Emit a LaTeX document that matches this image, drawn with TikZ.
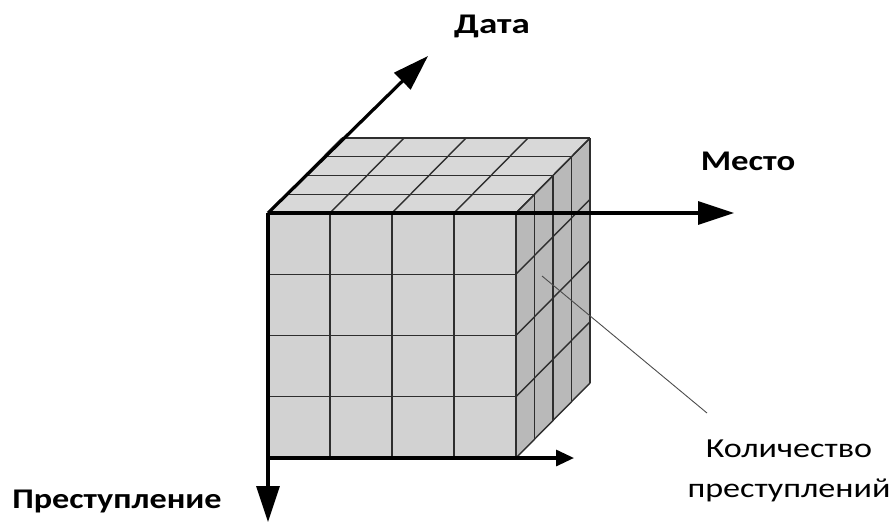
\documentclass[tikz,border=0pt]{standalone}
\usepackage{fontspec}
\setmainfont{Carlito}
\usetikzlibrary{arrows.meta}
\definecolor{frontc}{HTML}{D2D2D2}
\definecolor{topc}{HTML}{D8D8D8}
\definecolor{sidec}{HTML}{B9B9B9}
\definecolor{gridc}{HTML}{2E2E2E}
\tikzset{
  gridline/.style={draw=gridc, line width=1.4pt},
  axis/.style={line width=3.2pt, black},
  bighead/.style={-{Triangle[length=36pt,width=23pt]}},
  smallhead/.style={-{Triangle[length=18pt,width=16pt]}},
  axlabel/.style={font=\fontsize{28.5}{34}\selectfont\bfseries, inner sep=0pt, anchor=base},
  notelabel/.style={font=\fontsize{27.5}{40}\selectfont, inner sep=0pt, anchor=base},
}
\begin{document}
\begin{tikzpicture}[x=1pt,y=-1pt]
\useasboundingbox (0,0) rectangle (895,523);
% geometry
\def\dx{18.5}\def\dy{-18.75}
% faces
\fill[topc] (268,213) -- (516,213) -- (590,138) -- (342,138) -- cycle;
\fill[sidec] (516,213) -- (590,138) -- (590,383) -- (516,458) -- cycle;
\fill[frontc] (268,213) rectangle (516,458);
% top face grid
\foreach \k in {0,1,2,3,4}{
  \draw[gridline] ({268+\k*\dx},{213+\k*\dy}) -- ({516+\k*\dx},{213+\k*\dy});
  \draw[gridline] ({516+\k*\dx},{213+\k*\dy}) -- ({516+\k*\dx},{458+\k*\dy});
}
\foreach \x in {268,330,392,454,516}{
  \draw[gridline] (\x,213) -- ({\x+4*\dx},{213+4*\dy});
}
\foreach \y in {213,274.25,335.5,396.75,458}{
  \draw[gridline] (516,\y) -- ({516+4*\dx},{\y+4*\dy});
  \draw[gridline] (268,\y) -- (516,\y);
}
\foreach \x in {268,330,392,454,516}{
  \draw[gridline] (\x,213) -- (\x,458);
}
% axes
\coordinate (O) at (268,213);
\coordinate (B) at (268,458);
\coordinate (dateEnd) at (428,56);
\coordinate (placeEnd) at (734,213);
\coordinate (crimeEnd) at (268,522);
\coordinate (bottomEnd) at (574,458);
\draw[axis,bighead] (O) -- (dateEnd);
\draw[axis,bighead] (O) -- (placeEnd);
\draw[axis,bighead] (O) -- (crimeEnd);
\draw[axis,smallhead] (B) -- (bottomEnd);
% labels
\node[axlabel] (date) at (492,33) {\scalebox{1.3}[1]{Дата}};
\node[axlabel] (place) at (748,170) {\scalebox{1.22}[1]{Место}};
\node[axlabel] (crime) at (117,508) {\scalebox{1.2}[1]{Преступление}};
\node[notelabel] (count) at (789,457) {\scalebox{1.24}[1]{\begin{tabular}[t]{@{}c@{}}Количество\\преступлений\end{tabular}}};
\coordinate (cell) at (542,276);
\draw[gray!60!black, line width=0.9pt] (cell) -- (707,413);
\end{tikzpicture}
\end{document}
